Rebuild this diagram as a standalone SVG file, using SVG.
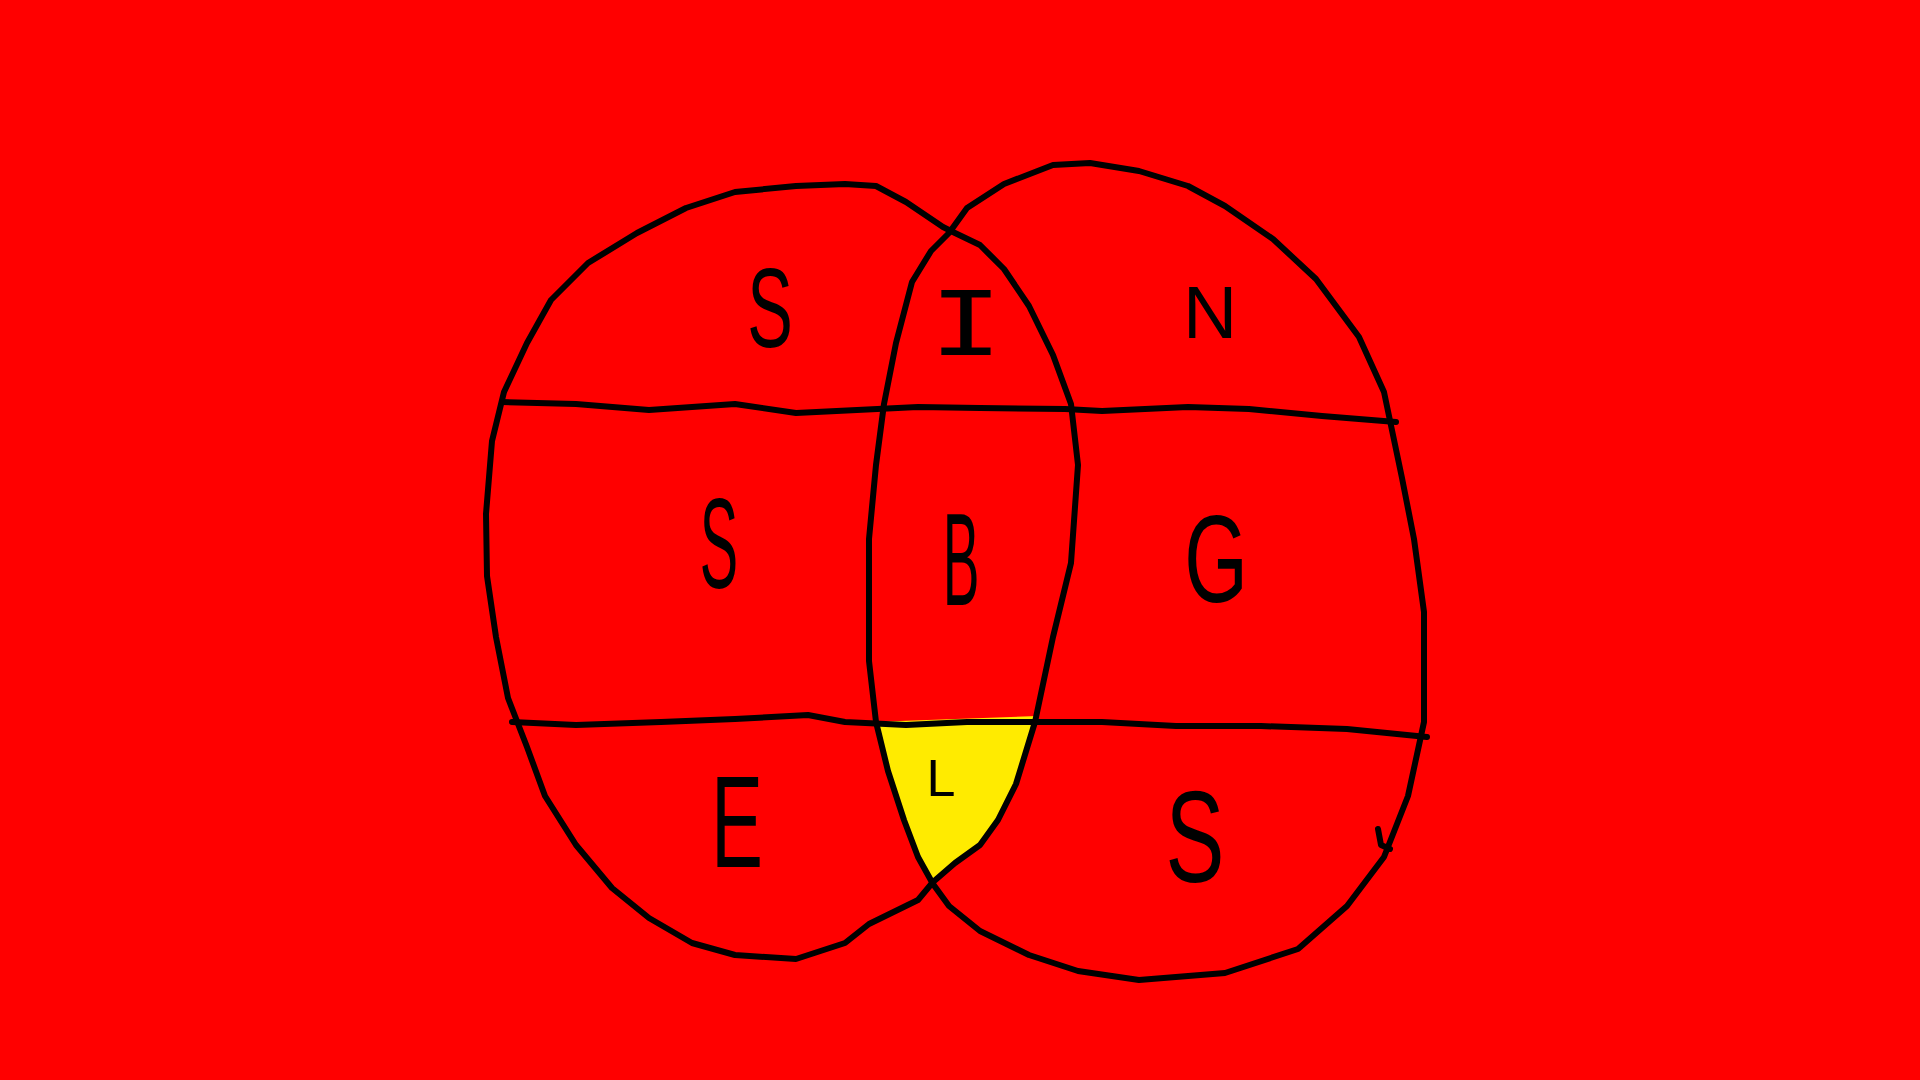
<svg xmlns="http://www.w3.org/2000/svg" width="1920" height="1080" viewBox="0 0 1920 1080">
<style>
.ln{fill:none;stroke:#000;stroke-width:6;stroke-linecap:round;stroke-linejoin:round}
.t{font-family:"Liberation Sans",Arial,sans-serif;fill:#000;text-anchor:middle}
.m{font-family:"Liberation Mono","DejaVu Sans Mono",monospace}
</style>
<rect width="1920" height="1080" fill="#FF0000"/>
<g id="lens-bottom">
<polygon points="872,722 1038,716 1035,722 1016,784 998,820 980,845 955,863 933,882 918,857 904,820 888,771 876,722" fill="#FFEB00"/>
</g>
<g id="connectors">
<path id="left-circle" class="ln" d="M845,184 L796,186 L735,192 L686,208 L637,233 L588,263 L551,300 L527,343 L504,392 L492,441 L486,514 L487,576 L496,637 L508,698 L527,747 L545,796 L576,845 L612,888 L649,918 L692,943 L735,955 L796,959 L845,943 L869,924 L918,900 L933,882 L955,863 L980,845 L998,820 L1016,784 L1035,722 L1053,637 L1071,563 L1078,465 L1071,404 L1053,355 L1029,306 L1004,269 L980,245 L955,233 L943,227 L906,202 L876,186 Z"/>
<path id="right-circle" class="ln" d="M933,884 L918,857 L904,820 L888,771 L876,722 L869,661 L869,539 L876,465 L884,404 L896,343 L912,282 L931,251 L949,233 L967,208 L1004,184 L1053,165 L1090,163 L1139,171 L1188,186 L1225,206 L1273,239 L1316,279 L1359,337 L1384,392 L1402,478 L1414,539 L1424,612 L1424,722 L1408,796 L1384,857 L1347,906 L1298,949 L1225,973 L1139,980 L1078,971 L1029,955 L980,931 L949,906 Z"/>
<path class="ln" d="M1378,829 L1381,845 L1390,849"/>
<path id="top-line" class="ln" d="M502,402 L576,404 L649,410 L735,404 L796,413 L857,410 L918,407 L980,408 L1065,409 L1102,411 L1188,407 L1249,409 L1322,416 L1396,422"/>
<path id="bottom-line" class="ln" d="M512,722 L576,725 L661,722 L735,719 L808,715 L845,722 L906,725 L967,722 L1029,722 L1102,722 L1176,726 L1261,726 L1347,729 L1427,737"/>
</g>
<g id="n-S1"><text class="t" transform="translate(770,347) scale(0.6,1)" font-size="114">S</text></g>
<g id="n-I"><text class="t m" transform="translate(966,355) scale(1.25,1)" font-size="98">I</text></g>
<g id="n-N"><text class="t" x="1210" y="338" font-size="75">N</text></g>
<g id="n-S2"><text class="t" transform="translate(719,588) scale(0.45,1)" font-size="128">S</text></g>
<g id="n-B"><text class="t" transform="translate(961,605) scale(0.42,1)" font-size="131">B</text></g>
<g id="n-G"><text class="t" transform="translate(1216,602) scale(0.66,1)" font-size="124">G</text></g>
<g id="n-E"><text class="t" transform="translate(737,867) scale(0.6,1)" font-size="130">E</text></g>
<g id="n-L"><text class="t" x="941" y="796" font-size="52">L</text></g>
<g id="n-S3"><text class="t" transform="translate(1195,882) scale(0.68,1)" font-size="130">S</text></g>
</svg>
